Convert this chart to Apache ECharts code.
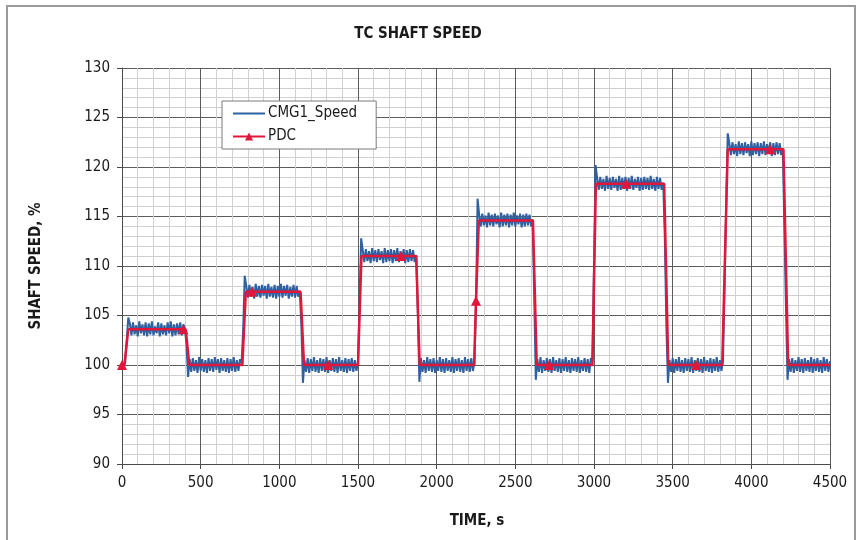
<!DOCTYPE html>
<html>
<head>
<meta charset="utf-8">
<script src="https://cdn.jsdelivr.net/npm/echarts@6/dist/echarts.min.js"></script>
<style>
  html, body { margin: 0; padding: 0; background: #ffffff; }
  #chart { width: 860px; height: 540px; }
</style>
</head>
<body>
<div id="chart"></div>
<script>
// ---------------- DATA ----------------
const chartTitle = 'TC SHAFT SPEED';
const xAxisTitle = 'TIME, s';
const yAxisTitle = 'SHAFT SPEED, %';
const seriesNames = ['CMG1_Speed', 'PDC'];
const xTicks = [0, 500, 1000, 1500, 2000, 2500, 3000, 3500, 4000, 4500];
const yTicks = [90, 95, 100, 105, 110, 115, 120, 125, 130];

// CMG1_Speed: one sample every 10 s, from 0 s to 4500 s
const speedSampleStep = 10;
const speedValues = [
  100.1, 99.9, 100.2, 102.5, 104.8,
  104.2, 103.0, 104.3, 103.1, 104.0, 102.9, 104.4, 103.2, 104.1, 103.0, 104.3, 102.9, 104.2, 103.1, 104.4, 103.0, 103.9, 103.2, 104.3, 102.9, 104.2, 103.1, 104.0, 103.0, 104.3, 103.2, 104.4, 102.9, 104.1, 103.0, 104.2, 103.1, 104.3, 103.0, 104.1,
  103.7, 102.0, 98.8,
  100.6, 99.3, 100.7, 99.4, 100.5, 99.2, 100.8, 99.4, 100.6, 99.3, 100.5, 99.2, 100.7, 99.4, 100.6, 99.3, 100.8, 99.5, 100.6, 99.2, 100.7, 99.4, 100.5, 99.3, 100.7, 99.2, 100.6, 99.4, 100.8, 99.3, 100.5, 99.4, 100.6,
  100.2, 103.5, 109.0,
  108.0, 106.8, 108.1, 106.9, 107.9, 106.7, 108.2, 106.9, 108.0, 106.8, 108.1, 107.0, 108.0, 106.7, 108.2, 106.9, 107.9, 106.8, 108.1, 106.7, 108.0, 106.9, 108.2, 106.8, 108.0, 107.0, 108.1, 106.7, 107.9, 106.9, 108.1, 106.8, 108.0, 106.9,
  107.5, 104.0, 98.2,
  100.5, 99.3, 100.7, 99.2, 100.6, 99.4, 100.8, 99.3, 100.5, 99.2, 100.7, 99.4, 100.6, 99.3, 100.8, 99.2, 100.5, 99.4, 100.7, 99.3, 100.6, 99.2, 100.8, 99.4, 100.5, 99.3, 100.7, 99.2, 100.6, 99.4, 100.7, 99.3, 100.5, 99.4,
  100.3, 106.5, 112.8,
  111.6, 110.4, 111.7, 110.5, 111.5, 110.3, 111.8, 110.5, 111.6, 110.4, 111.7, 110.6, 111.5, 110.3, 111.8, 110.4, 111.6, 110.5, 111.7, 110.3, 111.6, 110.5, 111.8, 110.4, 111.5, 110.6, 111.7, 110.3, 111.6, 110.4, 111.7, 110.5, 111.6, 110.4,
  111.1, 105.5, 98.3,
  100.7, 99.3, 100.5, 99.2, 100.8, 99.4, 100.6, 99.3, 100.7, 99.2, 100.5, 99.4, 100.8, 99.3, 100.6, 99.2, 100.7, 99.4, 100.5, 99.3, 100.8, 99.2, 100.6, 99.4, 100.7, 99.3, 100.5, 99.2, 100.8, 99.4, 100.6, 99.3, 100.7, 99.4,
  100.2, 106.0, 116.8,
  115.2, 114.0, 115.3, 114.1, 115.1, 113.9, 115.4, 114.1, 115.2, 114.0, 115.3, 114.2, 115.1, 113.9, 115.4, 114.0, 115.2, 114.1, 115.3, 113.9, 115.2, 114.1, 115.4, 114.0, 115.1, 114.2, 115.3, 113.9, 115.2, 114.0, 115.3, 114.1, 115.2, 114.0,
  114.7, 107.0, 98.5,
  100.6, 99.3, 100.8, 99.2, 100.5, 99.4, 100.7, 99.3, 100.6, 99.2, 100.8, 99.4, 100.5, 99.3, 100.7, 99.2, 100.6, 99.4, 100.8, 99.3, 100.5, 99.2, 100.7, 99.4, 100.6, 99.3, 100.8, 99.2, 100.5, 99.4, 100.7, 99.3, 100.6, 99.2, 100.7,
  100.4, 110.0, 120.2,
  118.9, 117.7, 119.0, 117.8, 118.8, 117.6, 119.1, 117.8, 118.9, 117.7, 119.0, 117.9, 118.8, 117.6, 119.1, 117.7, 118.9, 117.8, 119.0, 117.6, 118.9, 117.8, 119.1, 117.7, 118.8, 117.9, 119.0, 117.6, 118.9, 117.7, 119.0, 117.8, 118.9, 117.7, 119.1, 117.8, 118.8, 117.6, 119.0, 117.8, 118.9, 117.7,
  118.4, 113.0, 104.0, 98.2,
  100.5, 99.3, 100.7, 99.2, 100.6, 99.4, 100.8, 99.3, 100.5, 99.2, 100.7, 99.4, 100.6, 99.3, 100.8, 99.2, 100.5, 99.4, 100.7, 99.3, 100.6, 99.2, 100.8, 99.4, 100.5, 99.3, 100.7, 99.2, 100.6, 99.4, 100.8, 99.3, 100.5, 99.4,
  100.5, 108.0, 116.0, 123.4,
  122.4, 121.2, 122.5, 121.3, 122.3, 121.1, 122.6, 121.3, 122.4, 121.2, 122.5, 121.4, 122.3, 121.1, 122.6, 121.2, 122.4, 121.3, 122.5, 121.1, 122.4, 121.3, 122.6, 121.2, 122.3, 121.4, 122.5, 121.1, 122.4, 121.2, 122.5, 121.3, 122.4, 121.2,
  121.9, 114.0, 106.0, 98.5,
  100.6, 99.3, 100.7, 99.2, 100.5, 99.4, 100.8, 99.3, 100.6, 99.2, 100.7, 99.4, 100.5, 99.3, 100.8, 99.2, 100.6, 99.4, 100.7, 99.3, 100.5, 99.2, 100.8, 99.4, 100.6, 99.3, 100.4
];

// PDC: step profile, times (s) and values (%)
const pdcTimes  = [0,   15,  40,    390,   405,   428, 765, 787,   826,   1135,  1157, 1310, 1500, 1522,  1773,  1870,  1892, 2238, 2250,  2268,  2612,  2636, 2714, 2990, 3012,  3204,  3446,  3472, 3649, 3815, 3850,  4119,  4204,  4234, 4500];
const pdcValues = [100, 100, 103.6, 103.6, 103.6, 100, 100, 107.4, 107.4, 107.4, 100,  100,  100,  111.0, 111.0, 111.0, 100,  100,  106.5, 114.6, 114.6, 100,  100,  100,  118.3, 118.3, 118.3, 100,  100,  100,  121.8, 121.8, 121.8, 100,  100];
// times at which the PDC triangle marker is drawn
const pdcMarkerTimes = [0, 390, 826, 1310, 1773, 2250, 2714, 3204, 3649, 4119];

// ---------------- CHART ----------------
const FONT = '"DejaVu Sans Condensed", "DejaVu Sans", sans-serif';
const BLUE = '#2f60a0';
const RED = '#e0173a';
const speedData = speedValues.map((v, i) => [i * speedSampleStep, v]);
const pdcData = pdcTimes.map((t, i) => {
  const isMarker = pdcMarkerTimes.indexOf(t) >= 0;
  return isMarker
    ? { value: [t, pdcValues[i]], symbol: 'triangle', symbolSize: 10 }
    : { value: [t, pdcValues[i]], symbol: 'none' };
});

const chart = echarts.init(document.getElementById('chart'), null, { renderer: 'canvas' });
chart.setOption({
  animation: false,
  backgroundColor: '#ffffff',
  title: {
    text: chartTitle,
    left: 413, top: 22, textAlign: 'center',
    textStyle: { fontFamily: FONT, fontSize: 15, fontWeight: 'bold', color: '#1a1a1a' }
  },
  legend: {
    orient: 'vertical',
    left: 222, top: 101,
    data: [
      { name: seriesNames[0], itemStyle: { opacity: 0, color: 'rgba(0,0,0,0)', borderWidth: 0 } },
      { name: seriesNames[1] }
    ],
    backgroundColor: '#ffffff',
    borderColor: '#7a7a7a', borderWidth: 1, borderRadius: 0,
    padding: [5, 19, 5, 10],
    itemWidth: 32, itemHeight: 10, itemGap: 8,
    textStyle: { fontFamily: FONT, fontSize: 15, color: '#1a1a1a', padding: [0, 0, 0, -2] }
  },
  grid: { left: 122, top: 68, width: 708, height: 396, containLabel: false },
  xAxis: {
    type: 'value', min: xTicks[0], max: xTicks[xTicks.length - 1], interval: 500,
    axisLine: { show: true, lineStyle: { color: '#4a4a4a', width: 1 } },
    axisTick: { show: true, length: 5, lineStyle: { color: '#4a4a4a' } },
    axisLabel: { margin: 12, fontFamily: FONT, fontSize: 15, color: '#1a1a1a', formatter: v => String(v) },
    splitLine: { show: true, lineStyle: { color: '#5c5c5c', width: 1 } },
    minorTick: { show: false, splitNumber: 5 },
    minorSplitLine: { show: true, lineStyle: { color: '#d0d0d0', width: 1 } }
  },
  yAxis: {
    type: 'value', min: yTicks[0], max: yTicks[yTicks.length - 1], interval: 5,
    axisLine: { show: true, lineStyle: { color: '#4a4a4a', width: 1 } },
    axisTick: { show: true, length: 5, lineStyle: { color: '#4a4a4a' } },
    axisLabel: { margin: 12, fontFamily: FONT, fontSize: 15, color: '#1a1a1a', formatter: v => String(v) },
    splitLine: { show: true, lineStyle: { color: '#5c5c5c', width: 1 } },
    minorTick: { show: false, splitNumber: 5 },
    minorSplitLine: { show: true, lineStyle: { color: '#d0d0d0', width: 1 } }
  },
  graphic: [
    { type: 'rect', shape: { x: 7, y: 6, width: 848, height: 545 }, style: { fill: 'none', stroke: '#9a9a9a', lineWidth: 2 }, silent: true, z: -1 },
    { type: 'text', x: 477, y: 521, style: { text: xAxisTitle, fontFamily: FONT, fontSize: 15, fontWeight: 'bold', fill: '#1a1a1a', align: 'center', verticalAlign: 'middle' } },
    { type: 'text', x: 36, y: 266, rotation: Math.PI / 2, style: { text: yAxisTitle, fontFamily: FONT, fontSize: 15, fontWeight: 'bold', fill: '#1a1a1a', align: 'center', verticalAlign: 'middle' } }
  ],
  series: [
    {
      name: seriesNames[0], type: 'line', data: speedData,
      symbol: 'none', showSymbol: false,
      lineStyle: { color: BLUE, width: 2 },
      itemStyle: { color: BLUE },
      z: 2
    },
    {
      name: seriesNames[1], type: 'line', data: pdcData,
      symbol: 'triangle', symbolSize: 10, showSymbol: true,
      lineStyle: { color: RED, width: 2.5 },
      itemStyle: { color: RED },
      z: 3
    }
  ]
});
</script>
</body>
</html>
